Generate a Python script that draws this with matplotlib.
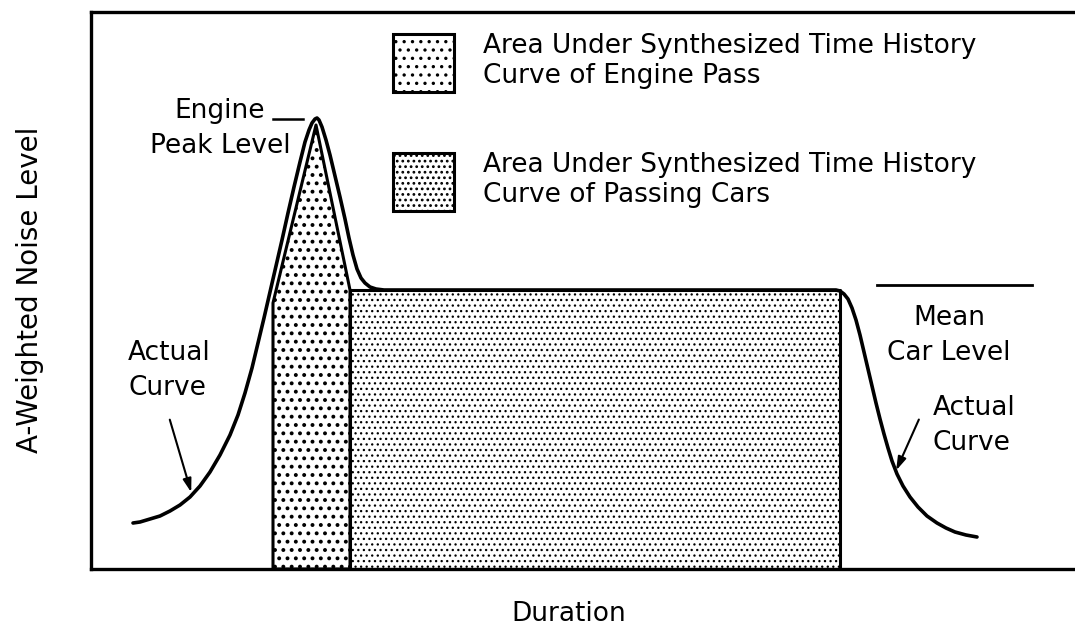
import matplotlib
matplotlib.use('Agg')
import matplotlib.pyplot as plt
from matplotlib.patches import Patch

plt.rcParams['font.family'] = 'DejaVu Sans'
plt.rcParams['hatch.linewidth'] = 1.2

# actual time history curve (duration, level)
actual_t = [133, 140, 150, 160, 170, 180, 190, 200, 210, 220, 230, 238, 245, 252, 258,
            264, 270, 276, 282, 288, 294, 300, 305, 309, 312, 315, 317, 319, 322, 326,
            330, 335, 340, 345, 349, 353, 357, 361, 365, 370, 376, 384,
            836, 840, 844, 848, 852, 856, 860, 864, 868, 872, 876, 880, 884, 888, 892,
            897, 903, 910, 918, 927, 937, 946, 955, 966, 977]
actual_level = [110, 111, 114, 117, 122, 128, 136, 147, 161, 178, 198, 218, 240, 265, 290,
                315, 341, 367, 393, 420, 446, 471, 491, 503, 510, 514, 515, 513, 506, 493,
                478, 457, 436, 414, 395, 378, 364, 355, 350, 346, 344, 343,
                343, 342, 339, 334, 325, 313, 298, 281, 264, 247, 230, 214, 199, 185, 172,
                159, 147, 136, 126, 117, 110, 105, 101, 98, 96]

# synthesized engine pass (triangle) and passing cars (block)
engine_t = [273, 316, 350]
engine_level = [330, 508, 343]
cars_t = [350, 840]
cars_level = [343, 343]
floor_level = 64

mean_car_t = [877, 1032]
mean_car_level = [348, 348]

fig = plt.figure(figsize=(10.75, 6.33), dpi=100)
ax = fig.add_axes([91 / 1075, 64 / 633, 984 / 1075, 557 / 633])
ax.set_xlim(91, 1075)
ax.set_ylim(64, 621)

cars = ax.fill_between(cars_t, floor_level, cars_level, facecolor='white',
                       edgecolor='black', hatch='...', linewidth=2.2)
engine = ax.fill_between(engine_t, floor_level, engine_level, facecolor='white',
                         edgecolor='black', hatch='..', linewidth=2.2)
try:
    cars.set_hatch_linewidth(0.9)
    engine.set_hatch_linewidth(1.6)
except AttributeError:
    pass

ax.plot(actual_t, actual_level, color='black', lw=2.6, solid_capstyle='round',
        solid_joinstyle='round')
ax.plot(mean_car_t, mean_car_level, color='black', lw=2)

fs = 19
ax.text(220, 480, 'Engine\nPeak Level', ha='center', va='baseline', fontsize=fs,
        linespacing=1.45)
ax.plot([273, 303], [514, 514], color='black', lw=1.8)
ax.text(128, 238, 'Actual\nCurve', ha='left', va='baseline', fontsize=fs, linespacing=1.45)
ax.text(949, 273, 'Mean\nCar Level', ha='center', va='baseline', fontsize=fs,
        linespacing=1.45)
ax.text(933, 183, 'Actual\nCurve', ha='left', va='baseline', fontsize=fs, linespacing=1.45)

arrow = dict(arrowstyle='-|>,head_length=0.8,head_width=0.25', color='black', lw=1.5)
ax.annotate('', xy=(192, 138), xytext=(169, 216), arrowprops=arrow)
ax.annotate('', xy=(895, 160), xytext=(920, 216), arrowprops=arrow)

handles = [Patch(facecolor='white', edgecolor='black', hatch='..', linewidth=2.2),
           Patch(facecolor='white', edgecolor='black', hatch='...', linewidth=2.2)]
labels = ['Area Under Synthesized Time History\nCurve of Engine Pass',
          'Area Under Synthesized Time History\nCurve of Passing Cars']
ax.legend(handles, labels, loc='upper left', bbox_to_anchor=(393 / 1075, 1 - 33 / 633),
          bbox_transform=fig.transFigure, frameon=False, fontsize=fs,
          handlelength=2.3, handleheight=3.0, handletextpad=1.1, labelspacing=2.25,
          borderpad=0, borderaxespad=0)

ax.set_xticks([])
ax.set_yticks([])
ax.spines['right'].set_visible(False)
for s in ['left', 'top', 'bottom']:
    ax.spines[s].set_linewidth(2.4)

fig.text(569 / 1075, 1 - 614 / 633, 'Duration', ha='center', va='center', fontsize=fs)
fig.text(30 / 1075, 1 - 290 / 633, 'A-Weighted Noise Level', ha='center', va='center',
         rotation=90, fontsize=20)

fig.savefig('out.png', dpi=100)
